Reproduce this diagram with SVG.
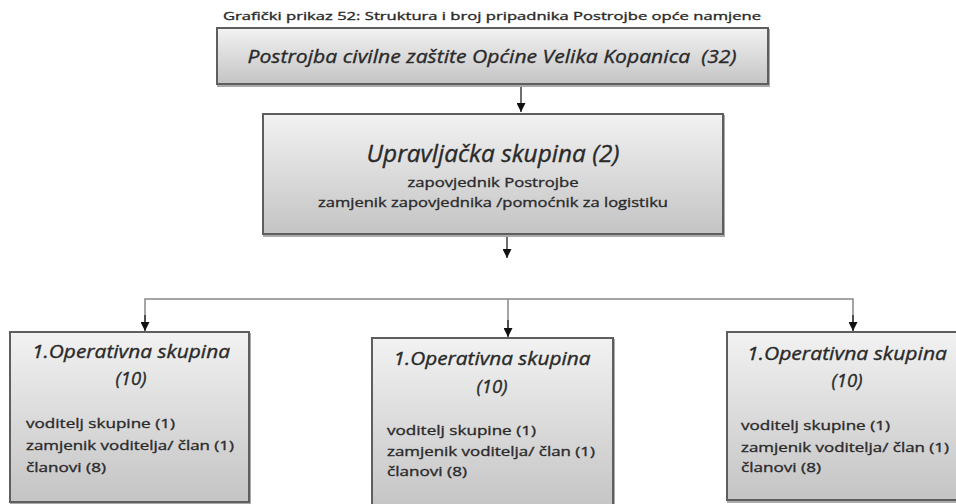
<svg xmlns="http://www.w3.org/2000/svg" width="956" height="504" viewBox="0 0 956 504">
<defs>
<linearGradient id="g" x1="0" y1="0" x2="0" y2="1">
<stop offset="0" stop-color="#f2f2f2"/>
<stop offset="1" stop-color="#c4c4c4"/>
</linearGradient>
<marker id="ah" viewBox="0 0 10 10" refX="10" refY="5" markerWidth="9" markerHeight="9" markerUnits="userSpaceOnUse" orient="auto">
<path d="M0,0 L10,5 L0,10 z" fill="#111"/>
</marker>
<style>
.box{fill:url(#g);stroke:#5e5e5e;stroke-width:2}
.sh{fill:none;stroke:#aaa;stroke-width:2}
.t{font-family:"Open Sans","Liberation Sans",sans-serif;fill:#2a2a2a;stroke:#2a2a2a;stroke-width:0.35}
.i{font-style:italic}
.c{text-anchor:middle}
.ln{fill:none;stroke:#222;stroke-width:1.3}
.hl{fill:none;stroke:#888;stroke-width:1.5}
</style>
</defs>
<text class="t c" x="492" y="20" font-size="11.5" textLength="538" lengthAdjust="spacingAndGlyphs">Grafički prikaz 52: Struktura i broj pripadnika Postrojbe opće namjene</text>

<g id="connectors">
<line class="ln" x1="521" y1="84" x2="521" y2="112" marker-end="url(#ah)"/>
<line class="ln" x1="507" y1="234" x2="507" y2="258" marker-end="url(#ah)"/>
<polyline class="hl" points="145,330 145,299 853,299 853,330"/>
<line class="hl" x1="508" y1="299" x2="508" y2="336"/>
<line class="ln" x1="145" y1="315" x2="145" y2="331" marker-end="url(#ah)"/>
<line class="ln" x1="508" y1="320" x2="508" y2="337" marker-end="url(#ah)"/>
<line class="ln" x1="853" y1="315" x2="853" y2="331" marker-end="url(#ah)"/>
</g>

<g id="n-postrojba">
<rect class="sh" x="218" y="30" width="551" height="56"/>
<rect class="box" x="217" y="28" width="551" height="56"/>
<text class="t i c" x="492" y="63" font-size="19" textLength="489" lengthAdjust="spacingAndGlyphs" xml:space="preserve">Postrojba civilne zaštite Općine Velika Kopanica  (32)</text>
</g>

<g id="n-upravljacka">
<rect class="sh" x="264" y="116" width="460" height="120"/>
<rect class="box" x="263" y="114" width="460" height="120"/>
<text class="t i c" x="493" y="162" font-size="23" textLength="253" lengthAdjust="spacingAndGlyphs">Upravljačka skupina (2)</text>
<text class="t c" x="493" y="187" font-size="13.5" textLength="171" lengthAdjust="spacingAndGlyphs">zapovjednik Postrojbe</text>
<text class="t c" x="493" y="207" font-size="13.5" textLength="350" lengthAdjust="spacingAndGlyphs">zamjenik zapovjednika /pomoćnik za logistiku</text>
</g>

<g id="n-op1">
<rect class="sh" x="11" y="334" width="239" height="170"/>
<rect class="box" x="10" y="332" width="239" height="170"/>
<text class="t i c" x="131" y="358" font-size="18.5" textLength="198" lengthAdjust="spacingAndGlyphs">1.Operativna skupina</text>
<text class="t i c" x="131" y="385" font-size="18.5">(10)</text>
<text class="t" x="26" y="428" font-size="13.5" textLength="149" lengthAdjust="spacingAndGlyphs">voditelj skupine (1)</text>
<text class="t" x="26" y="450" font-size="13.5" textLength="208" lengthAdjust="spacingAndGlyphs">zamjenik voditelja/ član (1)</text>
<text class="t" x="26" y="472" font-size="13.5" textLength="80" lengthAdjust="spacingAndGlyphs">članovi (8)</text>
</g>

<g id="n-op2">
<rect class="sh" x="373" y="340" width="241" height="172"/>
<rect class="box" x="372" y="338" width="241" height="172"/>
<text class="t i c" x="492" y="365" font-size="18.5" textLength="197" lengthAdjust="spacingAndGlyphs">1.Operativna skupina</text>
<text class="t i c" x="492" y="393" font-size="18.5">(10)</text>
<text class="t" x="387" y="435" font-size="13.5" textLength="149" lengthAdjust="spacingAndGlyphs">voditelj skupine (1)</text>
<text class="t" x="387" y="456" font-size="13.5" textLength="208" lengthAdjust="spacingAndGlyphs">zamjenik voditelja/ član (1)</text>
<text class="t" x="387" y="476" font-size="13.5" textLength="80" lengthAdjust="spacingAndGlyphs">članovi (8)</text>
</g>

<g id="n-op3">
<rect class="sh" x="728" y="334" width="240" height="168"/>
<rect class="box" x="727" y="332" width="240" height="168"/>
<text class="t i c" x="847" y="360" font-size="18.5" textLength="200" lengthAdjust="spacingAndGlyphs">1.Operativna skupina</text>
<text class="t i c" x="847" y="387" font-size="18.5">(10)</text>
<text class="t" x="741" y="430" font-size="13.5" textLength="149" lengthAdjust="spacingAndGlyphs">voditelj skupine (1)</text>
<text class="t" x="741" y="452" font-size="13.5" textLength="208" lengthAdjust="spacingAndGlyphs">zamjenik voditelja/ član (1)</text>
<text class="t" x="741" y="472" font-size="13.5" textLength="80" lengthAdjust="spacingAndGlyphs">članovi (8)</text>
</g>
</svg>
